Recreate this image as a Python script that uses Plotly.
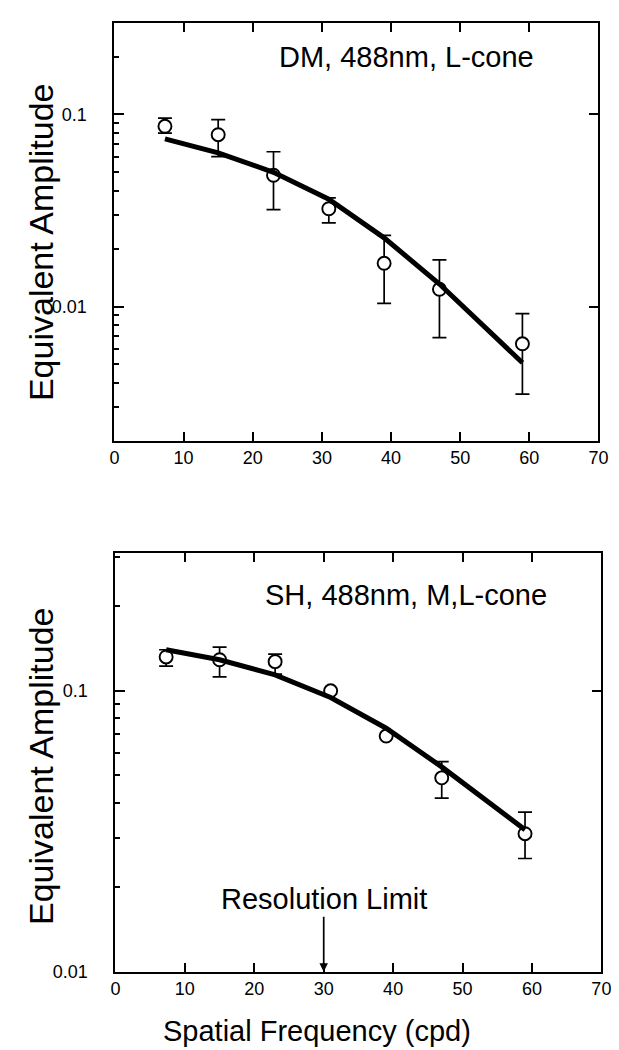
import math
import plotly.graph_objects as go

# ---------------- data ----------------
freq = [7.3, 15, 23, 31, 39, 47, 59]

# Panel A: DM, 488nm, L-cone
dm_amp = [0.0868, 0.0785, 0.0483, 0.0323, 0.0168, 0.0123, 0.0064]
dm_upper = [0.0957, 0.094, 0.064, 0.0368, 0.0235, 0.0175, 0.0092]
dm_lower = [0.080, 0.0603, 0.032, 0.0273, 0.0104, 0.0069, 0.0035]
dm_fit = [0.0746, 0.0632, 0.0500, 0.0362, 0.0228, 0.0131, 0.0051]

# Panel B: SH, 488nm, M,L-cone
sh_amp = [0.132, 0.129, 0.127, 0.100, 0.069, 0.049, 0.031]
sh_upper = [0.140, 0.143, 0.135, 0.100, 0.069, 0.056, 0.037]
sh_lower = [0.1225, 0.112, 0.1146, 0.100, 0.069, 0.0415, 0.0253]
sh_fit = [0.140, 0.129, 0.114, 0.0947, 0.0736, 0.0536, 0.0320]

x_ticks = [0, 10, 20, 30, 40, 50, 60, 70]
y_major = [0.01, 0.1]
y_minor = [0.002, 0.003, 0.004, 0.005, 0.006, 0.007, 0.008, 0.009,
           0.02, 0.03, 0.04, 0.05, 0.06, 0.07, 0.08, 0.09, 0.2, 0.3]
resolution_limit = 30
FONT = "Liberation Sans, Arial, Helvetica, sans-serif"

W, H = 619, 1050


def dom_x(a, b):
    return [a / W, b / W]


def dom_y(top, bottom):
    return [1 - bottom / H, 1 - top / H]


fig = go.Figure()


def add_panel(xa, ya, amp, up, lo, fit):
    plus = [u - v for u, v in zip(up, amp)]
    minus = [v - l for v, l in zip(amp, lo)]
    fig.add_trace(go.Scatter(
        x=freq, y=amp, mode="markers", xaxis=xa, yaxis=ya,
        marker=dict(symbol="circle", size=13, color="white",
                    line=dict(color="black", width=1.9)),
        error_y=dict(type="data", symmetric=False, array=plus, arrayminus=minus,
                     thickness=1.7, width=7, color="black"),
        showlegend=False, hoverinfo="skip"))
    fig.add_trace(go.Scatter(
        x=freq, y=fit, mode="lines", xaxis=xa, yaxis=ya,
        line=dict(color="black", width=5), showlegend=False, hoverinfo="skip"))


add_panel("x", "y", dm_amp, dm_upper, dm_lower, dm_fit)
add_panel("x2", "y2", sh_amp, sh_upper, sh_lower, sh_fit)
# invisible traces for the right-side mirror axes
for xa, ya in [("x", "y3"), ("x2", "y4")]:
    fig.add_trace(go.Scatter(x=[None], y=[None], xaxis=xa, yaxis=ya,
                             showlegend=False, hoverinfo="skip"))

xcommon = dict(range=[0, 70], tickmode="array", tickvals=x_ticks,
               ticktext=[str(v) for v in x_ticks],
               ticks="inside", ticklen=9, tickwidth=1.7, tickcolor="black",
               showline=True, linewidth=2, linecolor="black", mirror="ticks",
               showgrid=False, zeroline=False, ticklabelstandoff=0,
               tickfont=dict(family=FONT, size=18, color="black"))

ycommon = dict(type="log", tickmode="array", tickvals=y_major,
               ticktext=[str(v) for v in y_major],
               ticks="inside", ticklen=10, tickwidth=1.7, tickcolor="black",
               showline=True, linewidth=2, linecolor="black",
               showgrid=False, zeroline=False, ticklabelstandoff=22,
               minor=dict(tickmode="array", tickvals=y_minor, ticks="inside",
                          ticklen=5, tickwidth=1.5, tickcolor="black",
                          showgrid=False),
               tickfont=dict(family=FONT, size=18, color="black"))

ymirror = dict(type="log", tickmode="array", tickvals=y_major,
               ticks="inside", ticklen=9, tickwidth=1.7, tickcolor="black",
               showline=True, linewidth=2, linecolor="black",
               showgrid=False, zeroline=False, showticklabels=False, side="right")

range_top = [math.log10(0.002), math.log10(0.30)]
range_bot = [math.log10(0.01), math.log10(0.31)]

fig.update_layout(
    width=W, height=H,
    margin=dict(l=0, r=0, t=0, b=0),
    paper_bgcolor="white", plot_bgcolor="white",
    showlegend=False,
    xaxis=dict(xcommon, domain=dom_x(104, 600), anchor="y"),
    yaxis=dict(ycommon, domain=dom_y(15, 437), anchor="x", range=range_top),
    yaxis3=dict(ymirror, overlaying="y", anchor="x", range=range_top),
    xaxis2=dict(xcommon, domain=dom_x(105, 603), anchor="y2"),
    yaxis2=dict(ycommon, domain=dom_y(550, 973), anchor="x2", range=range_bot),
    yaxis4=dict(ymirror, overlaying="y2", anchor="x2", range=range_bot),
)

ann_font = dict(family=FONT, size=29, color="black")
title_font = dict(family=FONT, size=34, color="black")

fig.add_annotation(text="DM, 488nm, L-cone", x=42.3, y=math.log10(0.2),
                   xref="x", yref="y", showarrow=False, font=ann_font,
                   xanchor="center", yanchor="middle")
fig.add_annotation(text="SH, 488nm, M,L-cone", x=41.8, y=math.log10(0.219),
                   xref="x2", yref="y2", showarrow=False, font=ann_font,
                   xanchor="center", yanchor="middle")
fig.add_annotation(text="Resolution Limit", x=resolution_limit, y=math.log10(0.01),
                   xref="x2", yref="y2", ax=resolution_limit, ay=math.log10(0.0181),
                   axref="x2", ayref="y2", showarrow=True, arrowhead=2,
                   arrowsize=1, arrowwidth=1.7, arrowcolor="black", font=ann_font)

fig.add_annotation(text="Equivalent Amplitude", x=28 / W, y=1 - 236 / H,
                   xref="paper", yref="paper", textangle=-90, showarrow=False,
                   font=title_font, xanchor="center", yanchor="middle")
fig.add_annotation(text="Equivalent Amplitude", x=28 / W, y=1 - 765 / H,
                   xref="paper", yref="paper", textangle=-90, showarrow=False,
                   font=title_font, xanchor="center", yanchor="middle")
fig.add_annotation(text="Spatial Frequency (cpd)", x=312 / W, y=1 - 1033 / H,
                   xref="paper", yref="paper", showarrow=False,
                   font=dict(family=FONT, size=29, color="black"),
                   xanchor="center", yanchor="middle")

fig.write_html("out.html")
